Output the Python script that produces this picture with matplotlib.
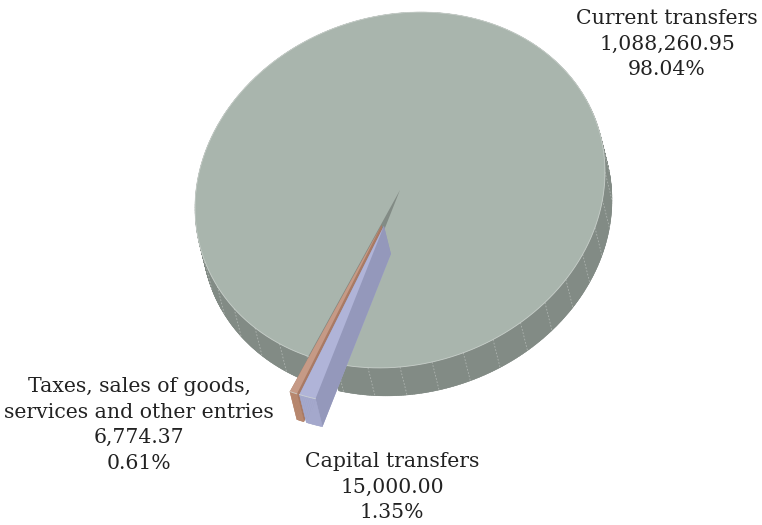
import matplotlib.pyplot as plt
import numpy as np
from matplotlib.patches import Polygon

# --- data ---
labels = ["Capital transfers", "Taxes, sales of goods,\nservices and other entries", "Current transfers"]
values = [15000.00, 6774.37, 1088260.95]
explode = [0.21, 0.21, 0.0]

# colours: top face, outer wall, cut face
top_cols = ["#b0b4d8", "#c69a86", "#a9b5ad"]
wall_cols = ["#a4a8cc", "#b8886f", "#828b85"]
cut_cols = ["#9498bb", "#a97a64", "#828b85"]

# --- pie geometry (pixel space) ---
cx, cy = 400.0, 190.0
U = np.array([205.0, -18.0])
V = np.array([0.0, 177.0])
D = np.array([7.0, 28.0])  # depth of the pie
start_deg = 109.5


def rim(theta, c):
    t = np.radians(theta)
    return c[0] + U[0] * np.cos(t) + V[0] * np.sin(t), c[1] + U[1] * np.cos(t) + V[1] * np.sin(t)


fig = plt.figure(figsize=(7.62, 5.25), dpi=100)
ax = fig.add_axes([0, 0, 1, 1])
ax.set_xlim(0, 762)
ax.set_ylim(525, 0)
ax.axis("off")

total = sum(values)
sweeps = [v / total * 360.0 for v in values]
starts = np.cumsum([start_deg] + sweeps[:-1])


def draw_slice(i, z, facets=False):
    a0, a1 = starts[i], starts[i] + sweeps[i]
    am = np.radians((a0 + a1) / 2)
    off = explode[i] * (U * np.cos(am) + V * np.sin(am))
    c_top = np.array([cx, cy]) + off
    c_bot = c_top + D
    th = np.linspace(a0, a1, max(int(sweeps[i] * 2), 6))
    xt, yt = rim(th, c_top)
    xb, yb = rim(th, c_bot)

    # bottom face
    ax.add_patch(Polygon(np.column_stack([np.r_[c_bot[0], xb], np.r_[c_bot[1], yb]]),
                         closed=True, fc=wall_cols[i], ec="none", zorder=z + 1))
    # cut faces (end side first, start side on top)
    for k in (-1, 0):
        ax.add_patch(Polygon([c_top, (xt[k], yt[k]), (xb[k], yb[k]), c_bot],
                             closed=True, fc=cut_cols[i], ec="none", zorder=z + 2))
    # outer wall, back quads first
    quads = []
    for j in range(len(th) - 1):
        q = [(xt[j], yt[j]), (xt[j + 1], yt[j + 1]), (xb[j + 1], yb[j + 1]), (xb[j], yb[j])]
        quads.append((yt[j] + yt[j + 1], q))
    quads.sort(key=lambda s: s[0])
    for _, q in quads:
        ax.add_patch(Polygon(q, closed=True, fc=wall_cols[i], ec=wall_cols[i], lw=0.3,
                             zorder=z + 3))
    if facets:
        for f in np.arange(0, 720, 9.0):
            if a0 < f < a1 and np.sin(np.radians(f)) > -0.3:
                fx, fy = rim(np.array([f]), c_top)
                gx, gy = rim(np.array([f]), c_bot)
                ax.plot([fx[0], gx[0]], [fy[0], gy[0]], color="white", alpha=0.35,
                        lw=0.6, ls=(0, (2, 2)), zorder=z + 4)
    # top face
    ax.add_patch(Polygon(np.column_stack([np.r_[c_top[0], xt], np.r_[c_top[1], yt]]),
                         closed=True, fc=top_cols[i], ec="none", zorder=z + 5))
    ax.plot(xt, yt, color="#d4dad6", lw=0.6, alpha=0.8, zorder=z + 6)


# big slice first, then the exploded ones (orange before lavender)
draw_slice(2, 0, facets=True)
draw_slice(1, 10)
draw_slice(0, 20)

pct = [v / total * 100 for v in values]
txt = dict(family="DejaVu Serif", fontsize=14.7, color="#222222", ha="center", va="center",
           linespacing=1.45)
ax.text(667, 44, f"{labels[2]}\n{values[2]:,.2f}\n{pct[2]:.2f}%", **txt)
ax.text(139, 425, f"{labels[1]}\n{values[1]:,.2f}\n{pct[1]:.2f}%", **txt)
ax.text(392, 487, f"{labels[0]}\n{values[0]:,.2f}\n{pct[0]:.2f}%", **txt)

fig.savefig("out.png", dpi=100)
